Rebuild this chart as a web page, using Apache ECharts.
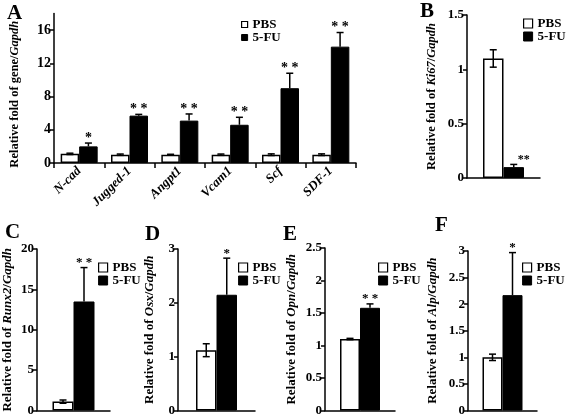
<!DOCTYPE html>
<html>
<head>
<meta charset="utf-8">
<script src="https://cdn.jsdelivr.net/npm/echarts@6/dist/echarts.min.js"></script>
<style>
html,body{margin:0;padding:0;background:#fff;}
#chart{width:567px;height:417px;}
</style>
</head>
<body>
<div id="chart"></div>
<script>
// ---------- DATA ----------
const catsA = ['N-cad', 'Jugged-1', 'Angpt1', 'Vcam1', 'Scf', 'SDF-1'];
const pbsA = [1.1, 1.0, 1.0, 1.0, 1.0, 1.0];
const pbsErrA = [0.08, 0.08, 0.05, 0.08, 0.1, 0.1];
const fuA = [2.0, 5.7, 5.1, 4.6, 9.0, 14.0];
const fuErrA = [0.4, 0.15, 0.8, 0.9, 1.8, 1.7];
const sigA = ['*', '* *', '* *', '* *', '* *', '* *'];
const ticksA = [0, 4, 8, 12, 16];

const pbsB = [1.1], pbsErrB = [0.08], fuB = [0.1], fuErrB = [0.025], sigB = ['**'];
const pbsC = [1.1], pbsErrC = [0.2], fuC = [13.5], fuErrC = [4.2], sigC = ['* *'];
const pbsD = [1.12], pbsErrD = [0.12], fuD = [2.15], fuErrD = [0.68], sigD = ['*'];
const pbsE = [1.1], pbsErrE = [0.01], fuE = [1.58], fuErrE = [0.06], sigE = ['* *'];
const pbsF = [1.0], pbsErrF = [0.06], fuF = [2.17], fuErrF = [0.8], sigF = ['*'];

const seriesNames = ['PBS', '5-FU'];
const letters = ['A', 'B', 'C', 'D', 'E', 'F'];

// ---------- LAYOUT ----------
const FONT = '"Liberation Serif", "Times New Roman", serif';
const panels = [
  {cats: catsA, pbs: pbsA, pbsErr: pbsErrA, fu: fuA, fuErr: fuErrA, sig: sigA,
   left: 54, top: 13.4, width: 302, height: 149.6, yMax: 18, ticks: ticksA,
   gene: 'gene/', geneItalic: false, nameGap: 33, nameFont: 12.5, namePad: [0, 12, 0, 0],
   bw: 18.5, tickFont: 14, xLabels: true,
   leg: {left: 241, top: 18, iw: 6, ih: 6, lh: 11}, starDx: 0, starFont: 14, letter: [7, 3]},
  {cats: [''], pbs: pbsB, pbsErr: pbsErrB, fu: fuB, fuErr: fuErrB, sig: sigB,
   left: 467, top: 15, width: 73, height: 163, yMax: 1.5, interval: 0.5,
   gene: 'Ki67', geneItalic: true, nameGap: 29, nameFont: 12.5, namePad: [0, 0, 0, 0],
   bw: 20.5, tickFont: 13, xLabels: false,
   leg: {left: 523, top: 17, iw: 9, ih: 9, lh: 11}, starDx: 10, starFont: 12, letter: [420, 1]},
  {cats: [''], pbs: pbsC, pbsErr: pbsErrC, fu: fuC, fuErr: fuErrC, sig: sigC,
   left: 37, top: 249, width: 73, height: 162, yMax: 20, interval: 5,
   gene: 'Runx2', geneItalic: true, nameGap: 23, nameFont: 13, namePad: [0, 0, 0, 0],
   bw: 21, tickFont: 13, xLabels: false,
   leg: {left: 98, top: 261, iw: 9, ih: 9, lh: 10}, starDx: 0, starFont: 13, letter: [5, 222]},
  {cats: [''], pbs: pbsD, pbsErr: pbsErrD, fu: fuD, fuErr: fuErrD, sig: sigD,
   left: 178, top: 249, width: 77, height: 162, yMax: 3, interval: 1,
   gene: 'Osx', geneItalic: true, nameGap: 22, nameFont: 13, namePad: [0, 0, 0, 0],
   bw: 20.5, tickFont: 13, xLabels: false,
   leg: {left: 238, top: 261, iw: 9, ih: 9, lh: 10}, starDx: 0, starFont: 13, letter: [145, 224]},
  {cats: [''], pbs: pbsE, pbsErr: pbsErrE, fu: fuE, fuErr: fuErrE, sig: sigE,
   left: 325, top: 248, width: 70, height: 163, yMax: 2.5, interval: 0.5,
   gene: 'Opn', geneItalic: true, nameGap: 27, nameFont: 13, namePad: [0, 0, 0, 0],
   bw: 20, tickFont: 13, xLabels: false,
   leg: {left: 378, top: 261, iw: 9, ih: 9, lh: 10}, starDx: 0, starFont: 13, letter: [283, 224]},
  {cats: [''], pbs: pbsF, pbsErr: pbsErrF, fu: fuF, fuErr: fuErrF, sig: sigF,
   left: 468, top: 251, width: 69, height: 160, yMax: 3, interval: 0.5,
   gene: 'Alp', geneItalic: true, nameGap: 29, nameFont: 13, namePad: [0, 0, 0, 0],
   bw: 20, tickFont: 13, xLabels: false,
   leg: {left: 522, top: 261, iw: 9, ih: 9, lh: 10}, starDx: 0, starFont: 13, letter: [435, 215]}
];

const option = {
  animation: false,
  backgroundColor: '#fff',
  grid: [], xAxis: [], yAxis: [], series: [], legend: [], graphic: []
};

const axisLineStyle = {color: '#000', width: 1.5};

panels.forEach((p, i) => {
  option.grid.push({left: p.left, top: p.top, width: p.width, height: p.height});

  option.xAxis.push({
    type: 'category', gridIndex: i, data: p.cats,
    axisLine: {lineStyle: axisLineStyle},
    axisTick: {show: p.xLabels, length: 5, lineStyle: axisLineStyle},
    axisLabel: p.xLabels ? {
      show: true, interval: 0, rotate: 45, margin: 6, color: '#000',
      fontFamily: FONT, fontWeight: 'bold', fontStyle: 'italic', fontSize: 13
    } : {show: false}
  });

  const richName = {
    a: {fontFamily: FONT, fontWeight: 'bold', fontSize: p.nameFont, color: '#000'},
    b: {fontFamily: FONT, fontWeight: 'bold', fontStyle: 'italic', fontSize: p.nameFont, color: '#000'}
  };
  const nameStr = p.geneItalic
    ? '{a|Relative fold of }{b|' + p.gene + '}{a|/}{b|Gapdh}'
    : '{a|Relative fold of ' + p.gene + '}{b|Gapdh}';

  const yAx = {
    type: 'value', gridIndex: i, min: 0, max: p.yMax,
    splitLine: {show: false},
    axisLine: {show: true, lineStyle: axisLineStyle},
    axisTick: {show: true, length: 4, lineStyle: axisLineStyle},
    axisLabel: {color: '#000', fontFamily: FONT, fontWeight: 'bold', fontSize: p.tickFont, margin: 3},
    name: nameStr, nameLocation: 'middle', nameGap: p.nameGap,
    nameTextStyle: {rich: richName, padding: p.namePad}
  };
  if (p.ticks) {
    yAx.axisTick.customValues = p.ticks;
    yAx.axisLabel.customValues = p.ticks;
  } else {
    yAx.interval = p.interval;
  }
  option.yAxis.push(yAx);

  option.series.push({
    type: 'bar', name: seriesNames[0], xAxisIndex: i, yAxisIndex: i,
    data: p.pbs, barWidth: p.bw, barGap: '0%',
    itemStyle: {color: '#fff', borderColor: '#000', borderWidth: 1.5}
  });
  option.series.push({
    type: 'bar', name: seriesNames[1], xAxisIndex: i, yAxisIndex: i,
    data: p.fu, barWidth: p.bw, barGap: '0%',
    itemStyle: {color: '#000', borderColor: '#000', borderWidth: 1}
  });

  // error bars
  const errData = [];
  p.pbs.forEach((v, k) => errData.push([k, v, p.pbsErr[k], 0]));
  p.fu.forEach((v, k) => errData.push([k, v, p.fuErr[k], 1]));
  const bw = p.bw;
  option.series.push({
    type: 'custom', xAxisIndex: i, yAxisIndex: i, z: 5, silent: true,
    data: errData,
    renderItem: function (params, api) {
      const ci = api.value(0), v = api.value(1), e = api.value(2), side = api.value(3);
      const c = api.coord([ci, v]);
      const x = c[0] + (side === 0 ? -bw / 2 : bw / 2);
      const top = api.coord([ci, v + e])[1];
      const bot = side === 0 ? api.coord([ci, v - e])[1] : c[1];
      const cap = 3.5;
      const st = {stroke: '#000', lineWidth: 1.5};
      const children = [
        {type: 'line', shape: {x1: x, y1: top, x2: x, y2: bot}, style: st},
        {type: 'line', shape: {x1: x - cap, y1: top, x2: x + cap, y2: top}, style: st}
      ];
      if (side === 0) {
        children.push({type: 'line', shape: {x1: x - cap, y1: bot, x2: x + cap, y2: bot}, style: st});
      }
      return {type: 'group', children: children};
    }
  });

  // significance stars
  const starData = p.fu.map((v, k) => [k, v + p.fuErr[k]]);
  const sig = p.sig, dx = p.starDx, sf = p.starFont;
  option.series.push({
    type: 'custom', xAxisIndex: i, yAxisIndex: i, z: 6, silent: true,
    data: starData,
    renderItem: function (params, api) {
      const c = api.coord([api.value(0), api.value(1)]);
      return {
        type: 'text',
        style: {
          text: sig[params.dataIndex], x: c[0] + bw / 2 + dx, y: c[1] - 5,
          align: 'center', verticalAlign: 'middle',
          font: 'bold ' + sf + 'px ' + FONT, fill: '#000'
        }
      };
    }
  });

  option.legend.push({
    orient: 'vertical', left: p.leg.left, top: p.leg.top, padding: 0,
    itemWidth: p.leg.iw, itemHeight: p.leg.ih, itemGap: 0, icon: 'rect',
    selectedMode: false,
    data: [
      {name: seriesNames[0], itemStyle: {color: '#fff', borderColor: '#000', borderWidth: 1.2}},
      {name: seriesNames[1], itemStyle: {color: '#000', borderColor: '#000', borderWidth: 1}}
    ],
    textStyle: {fontFamily: FONT, fontWeight: 'bold', fontSize: 13, color: '#000', lineHeight: p.leg.lh}
  });

  option.graphic.push({
    type: 'text', left: p.letter[0], top: p.letter[1],
    style: {text: letters[i], font: 'bold 21px ' + FONT, fill: '#000'}
  });
});

const chart = echarts.init(document.getElementById('chart'), null, {renderer: 'canvas'});
chart.setOption(option);
</script>
</body>
</html>
